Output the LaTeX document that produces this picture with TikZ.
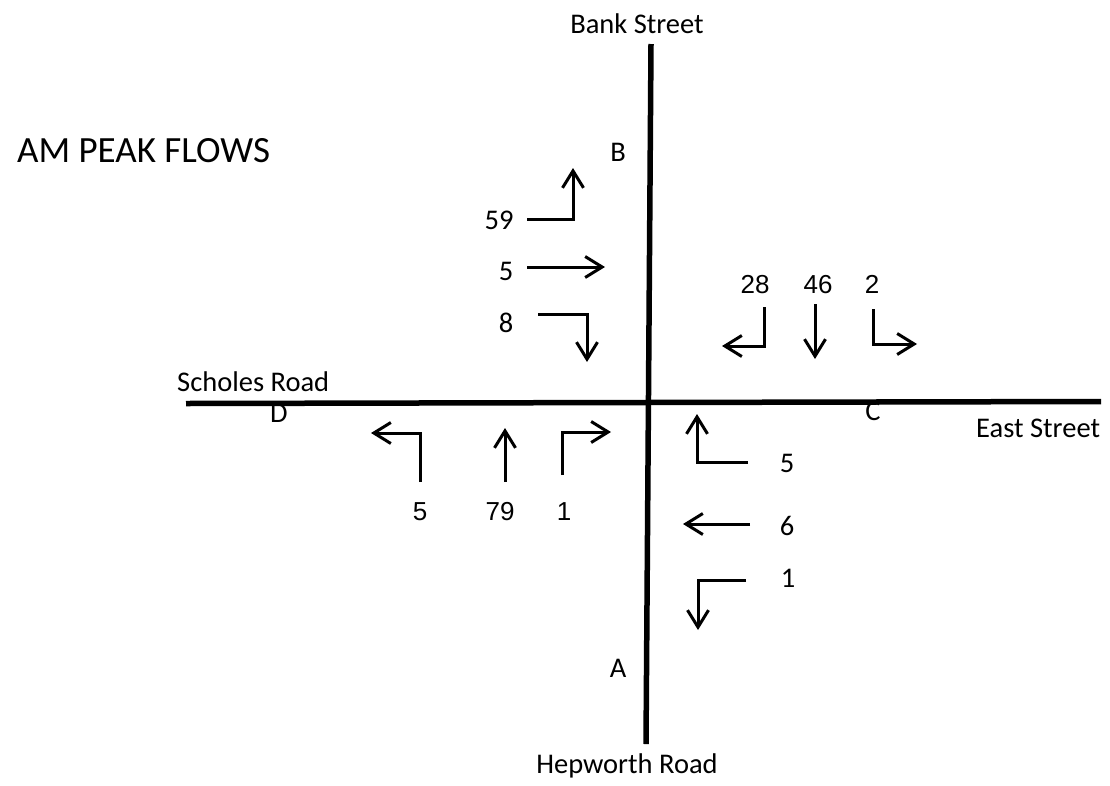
\documentclass[tikz,border=0pt]{standalone}
\usepackage{fontspec}
\setmainfont{Carlito}
\newfontfamily\arialfont{Liberation Sans}
\usetikzlibrary{arrows.meta}

\tikzset{
  road/.style={line width=5.5pt},
  flow/.style={line width=3pt, -{Straight Barb[length=17pt,width=21pt,line width=3pt]}},
  lbl/.style={anchor=base, inner sep=0pt, font=\fontsize{28.5}{34}\selectfont},
  num/.style={anchor=base, inner sep=0pt, font=\arialfont\fontsize{26}{31}\selectfont},
}

\begin{document}
\begin{tikzpicture}[x=1pt, y=-1pt]
  \useasboundingbox (0,0) rectangle (1110,785);

  % roads
  \coordinate (bankEnd) at (651,44);
  \coordinate (hepEnd) at (646,744);
  \coordinate (scholesEnd) at (186,403.5);
  \coordinate (eastEnd) at (1101,401.5);
  \draw[road] (bankEnd) -- (hepEnd);
  \draw[road] (scholesEnd) -- (eastEnd);

  % titles and road names
  \node[lbl, anchor=base west, font=\fontsize{37}{44}\selectfont] (title) at (17,162) {AM PEAK FLOWS};
  \node[lbl] (bank) at (637,33) {Bank Street};
  \node[lbl] (hep) at (627,773) {Hepworth Road};
  \node[lbl, anchor=base west] (scholes) at (177,391) {Scholes Road};
  \node[lbl, anchor=base west] (east) at (976,437) {East Street};

  % arm letters
  \node[lbl] (armB) at (618,161) {B};
  \node[lbl] (armD) at (279,422) {D};
  \node[lbl] (armC) at (873,420) {C};
  \node[lbl] (armA) at (618,677) {A};

  % approach D (from Scholes Road, upper left)
  \node[lbl] (dL) at (499,229) {59};
  \node[lbl] (dA) at (506,280) {5};
  \node[lbl] (dR) at (506,332) {8};
  \draw[flow] (527,219) -- (573,219) -- (573,168);
  \draw[flow] (527,267) -- (605,267);
  \draw[flow] (538,314) -- (587,314) -- (587,362);

  % approach B (from Bank Street, upper right)
  \node[num] (bR) at (755,293) {28};
  \node[num] (bA) at (818,293) {46};
  \node[num] (bL) at (872,293) {2};
  \draw[flow] (764,307) -- (764,346) -- (722,346);
  \draw[flow] (815,304) -- (815,359);
  \draw[flow] (873,309) -- (873,344) -- (917,344);

  % approach A (from Hepworth Road, lower left)
  \node[num] (aL) at (420,520) {5};
  \node[num] (aA) at (500,520) {79};
  \node[num] (aR) at (564,520) {1};
  \draw[flow] (420,482) -- (420,433) -- (371,433);
  \draw[flow] (505,482) -- (505,428);
  \draw[flow] (562,475) -- (562,432) -- (611,432);

  % approach C (from East Street, lower right)
  \node[lbl] (cR) at (787,472) {5};
  \node[lbl] (cA) at (787,535) {6};
  \node[lbl] (cL) at (788,587) {1};
  \draw[flow] (748,462) -- (697,462) -- (697,414);
  \draw[flow] (750,524) -- (683,524);
  \draw[flow] (746,580) -- (698,580) -- (698,630);
\end{tikzpicture}
\end{document}
